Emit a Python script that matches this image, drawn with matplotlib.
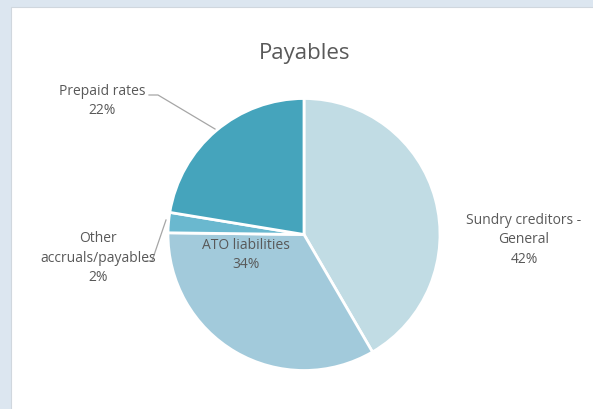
import matplotlib.pyplot as plt
from matplotlib.patches import Rectangle

plt.rcParams['font.family'] = ['Open Sans', 'DejaVu Sans']

labels = ['Sundry creditors -\nGeneral', 'ATO liabilities', 'Other\naccruals/payables', 'Prepaid rates']
shares = [41.6, 33.6, 2.4, 22.4]
colors = ['#c1dce4', '#a2cadb', '#6ab8cf', '#45a4bc']

W, H = 593, 410
fig = plt.figure(figsize=(W / 100, H / 100), dpi=100, facecolor='#dce6f0')

ax = fig.add_axes([0, 0, 1, 1])
ax.patch.set_visible(False)

# white chart panel
ax.add_patch(Rectangle((11, -5), W, H - 8 + 5, facecolor='white',
                       edgecolor='#d0d7de', linewidth=0.8, zorder=0))

cx, cy, r = 304, H - 235.5, 136
ax.pie(shares, colors=colors, startangle=90, counterclock=False,
       center=(cx, cy), radius=r, frame=True,
       wedgeprops=dict(edgecolor='white', linewidth=2))
ax.set_xlim(0, W)
ax.set_ylim(0, H)
ax.set_aspect('equal')
ax.axis('off')

txt = dict(color='#595959', fontsize=10, ha='center', va='center', linespacing=1.45)
ax.text(305, H - 53, 'Payables', color='#595959', fontsize=16, ha='center', va='center')

pos = [(524, H - 240), (246, H - 255), (98, H - 258), (102, H - 101)]
for (x, y), lab, s in zip(pos, labels, shares):
    ax.text(x, y, f'{lab}\n{round(s)}%', **txt)

# leader lines
ax.plot([149, 158, 215], [H - 96, H - 96, H - 130], color='#a6a6a6', linewidth=0.9)
ax.plot([146, 152, 166], [H - 262, H - 262, H - 221], color='#a6a6a6', linewidth=0.9)

fig.savefig('out.png', dpi=100, facecolor=fig.get_facecolor())
